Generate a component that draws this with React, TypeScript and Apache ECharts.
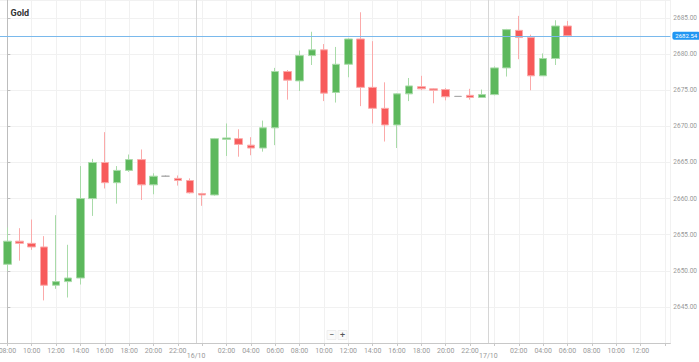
import React, { useEffect, useRef } from "react";
import * as echarts from "echarts";

// Hourly candles from 15/10 08:00 to 17/10 06:00
const startHour = 8; // 08:00 on 15/10
const opens = [
  2650.9, 2654.1, 2653.8, 2653.3, 2648.0, 2648.5, 2649.0, 2660.0, 2665.0, 2662.2,
  2663.9, 2665.4, 2661.9, 2663.1, 2662.8, 2662.5, 2660.7, 2660.5, 2668.2, 2668.3,
  2667.4, 2667.0, 2669.8, 2677.6, 2676.3, 2679.8, 2680.6, 2674.7, 2678.6, 2682.1,
  2675.4, 2672.5, 2670.2, 2674.5, 2675.5, 2675.2, 2675.1, 2674.15, 2674.3, 2674.0,
  2674.4, 2678.1, 2683.3, 2682.3, 2677.0, 2679.4, 2683.9,
];
const closes = [
  2654.1, 2653.8, 2653.3, 2648.0, 2648.5, 2649.0, 2660.0, 2665.0, 2662.2, 2663.9,
  2665.4, 2661.9, 2663.1, 2663.1, 2662.5, 2660.8, 2660.5, 2668.3, 2668.4, 2667.5,
  2667.0, 2669.8, 2677.6, 2676.4, 2679.8, 2680.6, 2674.6, 2678.6, 2682.1, 2675.4,
  2672.5, 2670.2, 2674.5, 2675.6, 2675.2, 2675.0, 2674.1, 2674.15, 2674.0, 2674.4,
  2678.1, 2683.4, 2682.3, 2677.0, 2679.4, 2683.9, 2682.54,
];
const lows = [
  2650.0, 2651.4, 2652.9, 2645.9, 2647.5, 2646.3, 2648.1, 2657.6, 2661.4, 2659.3,
  2663.7, 2659.8, 2660.6, 2663.0, 2661.8, 2660.7, 2659.0, 2660.4, 2665.9, 2665.8,
  2666.0, 2666.5, 2667.4, 2673.7, 2674.9, 2678.5, 2673.5, 2673.3, 2676.8, 2672.8,
  2670.4, 2667.9, 2667.0, 2673.5, 2675.0, 2673.2, 2673.6, 2674.1, 2673.7, 2674.0,
  2674.3, 2676.9, 2679.3, 2675.0, 2677.0, 2678.5, 2682.5,
];
const highs = [
  2656.0, 2655.9, 2657.1, 2654.8, 2657.7, 2653.6, 2664.5, 2665.5, 2669.2, 2664.5,
  2666.1, 2666.8, 2663.5, 2663.2, 2663.2, 2662.8, 2660.8, 2668.4, 2670.4, 2669.6,
  2668.5, 2670.8, 2678.1, 2677.8, 2680.5, 2683.1, 2681.4, 2681.0, 2682.2, 2685.8,
  2681.8, 2676.1, 2674.6, 2676.7, 2677.0, 2675.3, 2675.3, 2674.2, 2675.2, 2675.1,
  2678.3, 2683.5, 2685.3, 2682.7, 2680.1, 2684.7, 2684.6,
];
const dayLabels = ["16/10", "17/10"];
const dayBreaks = [15.5, 39.5]; // hours from start, between 23:00 and 00:00 candles
const lastPrice = 2682.54;
const lastLabelledHour = 52; // 12:00 on 17/10
const yTicks = { min: 2640, max: 2687.5, step: 5 };

const pad = (n: number) => (n < 10 ? "0" + n : "" + n);
const SHIFT = 17.5; // chart canvas starts off-screen so that the 08:00 tick sits at x=7

export default function App() {
  const ref = useRef<HTMLDivElement>(null);
  useEffect(() => {
    if (!ref.current) return;
    const chart = echarts.init(ref.current, undefined, { renderer: "svg" });
    const data = opens.map((o, i) => [i, o, closes[i], lows[i], highs[i]]);
    const font = "Roboto";
    chart.setOption({
      animation: false,
      backgroundColor: "#ffffff",
      title: {
        text: "Gold",
        left: 10 + SHIFT,
        top: 8,
        padding: 0,
        textStyle: { fontSize: 9, fontWeight: "bold", color: "#333", fontFamily: font },
      },
      grid: { left: 0, right: 25, top: 0, bottom: 19, containLabel: false },
      xAxis: {
        type: "value",
        min: -2,
        max: 54.45,
        interval: 2,
        axisLine: { show: true, lineStyle: { color: "#c8c8c8" } },
        axisTick: { show: true, length: 3, lineStyle: { color: "#c8c8c8" } },
        axisLabel: {
          fontSize: 7,
          color: "#999",
          fontFamily: font,
          margin: 4,
          showMinLabel: false,
          showMaxLabel: false,
          formatter: (v: number) => {
            if (v > lastLabelledHour) return "";
            const h = (((startHour + v) % 24) + 24) % 24;
            if (h === 0) return "";
            return pad(h) + ":00";
          },
        },
        splitLine: { show: true, lineStyle: { color: "#f1f1f1", width: 1 } },
      },
      yAxis: {
        type: "value",
        position: "right",
        scale: true,
        min: yTicks.min,
        max: yTicks.max,
        interval: yTicks.step,
        axisLine: { show: true, lineStyle: { color: "#bdbdbd" } },
        axisTick: { show: true, length: 3, lineStyle: { color: "#bdbdbd" } },
        axisLabel: {
          fontSize: 6.5,
          color: "#999",
          fontFamily: font,
          margin: 3,
          showMinLabel: false,
          showMaxLabel: false,
          formatter: (v: number) => v.toFixed(2),
        },
        splitLine: { show: true, lineStyle: { color: "#f1f1f1", width: 1 } },
      },
      series: [
        {
          type: "candlestick",
          data,
          encode: { x: 0, y: [1, 2, 3, 4] },
          barWidth: 8,
          itemStyle: {
            color: "#5cb85c",
            color0: "#f75a5a",
            borderColor: "#a9dba9",
            borderColor0: "#fbaaaa",
            borderColorDoji: "#aaaaaa",
            borderWidth: 1,
          },
          markLine: {
            silent: true,
            symbol: "none",
            data: [
              ...dayBreaks.map((x, i) => ({
                xAxis: x,
                lineStyle: { color: "#d6d6d6", type: "solid", width: 1 },
                label: {
                  show: true,
                  position: "start",
                  distance: 9,
                  formatter: dayLabels[i],
                  fontSize: 7,
                  color: "#999",
                  fontFamily: font,
                },
              })),
              {
                yAxis: lastPrice,
                lineStyle: { color: "#7ab9ec", type: "solid", width: 1 },
                label: {
                  show: true,
                  position: "end",
                  distance: 2,
                  formatter: lastPrice.toFixed(2),
                  fontSize: 6,
                  color: "#fff",
                  backgroundColor: "#2196f3",
                  padding: [1, 3],
                  borderRadius: 2,
                  fontFamily: font,
                },
              },
            ],
          },
        },
      ],
      graphic: [
        {
          type: "group",
          left: 326 + SHIFT,
          top: 330,
          children: [
            { type: "rect", shape: { x: 0, y: 0, width: 9, height: 9 }, style: { fill: "#fafafa", stroke: "#eeeeee" } },
            { type: "text", x: 4.5, y: 4.5, style: { text: "−", fontSize: 9, fill: "#555", align: "center", verticalAlign: "middle", fontFamily: font } },
            { type: "rect", shape: { x: 11, y: 0, width: 9, height: 9 }, style: { fill: "#fafafa", stroke: "#eeeeee" } },
            { type: "text", x: 15.5, y: 4.5, style: { text: "+", fontSize: 9, fill: "#555", align: "center", verticalAlign: "middle", fontFamily: font } },
          ],
        },
      ],
    });
    return () => chart.dispose();
  }, []);
  return (
    <div style={{ position: "absolute", left: 0, top: 0, width: "699px", height: "362px", overflow: "hidden" }}>
      <div
        ref={ref}
        style={{ position: "absolute", left: -SHIFT + "px", top: 0, width: 699 + SHIFT + "px", height: "362px" }}
      />
    </div>
  );
}
